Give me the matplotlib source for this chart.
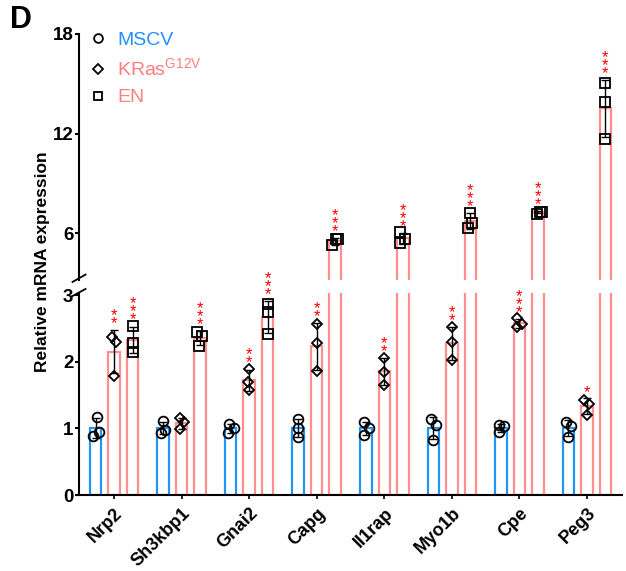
import numpy as np
import matplotlib
matplotlib.use("Agg")
import matplotlib.pyplot as plt
from matplotlib.lines import Line2D

plt.rcParams['font.family'] = ['Liberation Sans', 'DejaVu Sans']
plt.rcParams['mathtext.fontset'] = 'custom'
plt.rcParams['mathtext.rm'] = 'Liberation Sans'

# ---------------- data ----------------
genes = ['Nrp2', 'Sh3kbp1', 'Gnai2', 'Capg', 'Il1rap', 'Myo1b', 'Cpe', 'Peg3']
mscv = [[1.17, 0.89, 0.94], [1.11, 0.93, 0.98], [1.07, 0.93, 1.00], [1.14, 1.00, 0.87],
        [1.10, 1.00, 0.90], [1.14, 1.05, 0.82], [1.05, 1.04, 0.94], [1.10, 1.03, 0.87]]
kras = [[2.37, 2.30, 1.78], [1.15, 1.09, 0.99], [1.89, 1.69, 1.58], [2.56, 2.28, 1.86],
        [2.06, 1.85, 1.65], [2.52, 2.29, 2.02], [2.65, 2.52, 2.56], [1.43, 1.36, 1.20]]
en = [[2.54, 2.28, 2.15], [2.45, 2.38, 2.24], [2.87, 2.74, 2.41], [5.30, 5.66, 5.66],
      [6.06, 5.64, 5.40], [7.26, 6.64, 6.34], [7.20, 7.32, 7.30], [15.04, 13.90, 11.66]]
kras_sig = ['**', '', '**', '**', '**', '**', '***', '*']
en_sig = ['***', '***', '***', '***', '***', '***', '***', '***']
series_labels = ['MSCV', 'KRas$^{\\mathregular{G12V}}$', 'EN']
bottom_ticks = [0, 1, 2, 3]
top_ticks = [6, 12, 18]

# ---------------- style ----------------
BLUE = '#2196F3'
RED = '#FF8F8F'
TXT_BLUE = '#1E90FF'
TXT_RED = '#FF7F7F'
edge_colors = [BLUE, RED, RED]
text_colors = [TXT_BLUE, TXT_RED, TXT_RED]
markers = ['o', 'D', 's']
msizes = [7, 5.2, 6.5]
offsets = [-0.274, 0.0, 0.274]
bar_w = 0.17
PX = 1 / 67.5  # one pixel in x data units
jitter_px = {
    0: [[1, -3, 3], [0, -2.5, 2], [-2, -3, 3], [0, 0, 0], [-2, 3, -1.5], [-2.5, 2.5, 0], [-2, 3, -1.5], [-2, 3, 0]],
    1: [[-2, 2, 0], [-2, 2, -2], [0, -1, 0], [0, 0, 0], [0, 0, 0], [0, 0, 0], [-2, -2, 3], [-3, 2, 0]],
    2: [[0, 0, 0], [-3, 2, -1], [0, 0, 0], [-3, 1, 3], [-3, 2.5, -2.5], [0, 2, -2], [-1, 2.5, 4], [0, 0, 0]],
}

W, H = 626, 571
fig = plt.figure(figsize=(W / 100, H / 100), dpi=100)
left, right = 79 / W, 622 / W
ax_bot = fig.add_axes([left, 1 - 495 / H, right - left, (495 - 293) / H])
ax_top = fig.add_axes([left, 1 - 280 / H, right - left, (280 - 34) / H])
ax_top.patch.set_visible(False)
ax_bot.set_ylim(0, 3.03)
ax_top.set_ylim(3.2, 18)

xs = np.arange(len(genes))
data = [mscv, kras, en]
sigs = [None, kras_sig, en_sig]

for ax in (ax_bot, ax_top):
    lo, hi = ax.get_ylim()
    for s, vals in enumerate(data):
        arr = np.array(vals)
        means = arr.mean(axis=1)
        sds = arr.std(axis=1, ddof=1)
        xpos = xs + offsets[s]
        ax.bar(xpos, means, width=bar_w, facecolor='none', edgecolor=edge_colors[s],
               linewidth=1.6, zorder=2)
        inside = (means >= lo) & (means <= hi)
        if inside.any():
            ax.errorbar(xpos[inside], means[inside], yerr=sds[inside], fmt='none',
                        ecolor='black', elinewidth=1.0, capsize=3, capthick=1.0, zorder=3)
        for g in range(len(genes)):
            jx = xpos[g] + np.array(jitter_px[s][g]) * PX
            yv = arr[g]
            keep = (yv >= lo) & (yv <= hi)
            if keep.any():
                ax.plot(jx[keep], yv[keep], linestyle='none', marker=markers[s],
                        ms=msizes[s], mfc='none', mec='black', mew=1.3, zorder=4)

for ax in (ax_bot, ax_top):
    ax.set_xlim(-0.52, 7.52)
    ax.spines['top'].set_visible(False)
    ax.spines['right'].set_visible(False)
    ax.spines['left'].set_linewidth(1.5)
    ax.tick_params(axis='y', length=3, width=1.5, pad=1)
ax_top.spines['bottom'].set_visible(False)
ax_top.set_xticks([])
ax_bot.spines['bottom'].set_linewidth(1.5)
ax_bot.set_yticks(bottom_ticks)
ax_top.set_yticks(top_ticks)
ax_bot.set_yticklabels([str(t) for t in bottom_ticks], fontweight='bold', fontsize=13.5)
ax_top.set_yticklabels([str(t) for t in top_ticks], fontweight='bold', fontsize=13.5)
ax_bot.set_xticks(xs)
ax_bot.set_xticklabels(genes, rotation=45, ha='right', rotation_mode='anchor',
                       fontweight='bold', fontsize=13)
ax_bot.tick_params(axis='x', length=3, width=1.2, pad=4)

# significance stars (one stacked text per bar)
for s in (1, 2):
    arr = np.array(data[s])
    means = arr.mean(axis=1)
    sds = arr.std(axis=1, ddof=1)
    for g in range(len(genes)):
        sig = sigs[s][g]
        if not sig:
            continue
        top = max(means[g] + sds[g], arr[g].max())
        ax = ax_top if top > 3.1 else ax_bot
        ax.annotate('\n'.join(sig), xy=(xs[g] + offsets[s], top), xytext=(0, -1.0),
                    textcoords='offset points', ha='center', va='bottom',
                    color='red', fontsize=12, linespacing=0.42, zorder=5,
                    annotation_clip=False)

# axis break marks
d = 0.012
kw = dict(color='black', linewidth=1.3, clip_on=False)
ax_top.plot([-d, d], [-0.008, 0.022], transform=ax_top.transAxes, **kw)
ax_bot.plot([-d, d], [0.985, 1.02], transform=ax_bot.transAxes, **kw)

# legend
handles = [Line2D([], [], linestyle='none', marker=markers[i], ms=msizes[i] * 0.9,
                  mfc='none', mec='black', mew=1.3) for i in range(3)]
leg = ax_top.legend(handles, series_labels, loc='upper left',
                    bbox_to_anchor=(90 / W, 1 - 31 / H), bbox_transform=fig.transFigure,
                    frameon=False, fontsize=14, handlelength=0.8, handletextpad=0.6,
                    labelspacing=0.45, borderpad=0, borderaxespad=0)
for t, c in zip(leg.get_texts(), text_colors):
    t.set_color(c)

fig.text(43 / W, 1 - 262 / H, 'Relative mRNA expression', rotation=90, ha='center',
         va='center', fontsize=12.5, fontweight='bold')
fig.text(10 / W, 1 - 28 / H, 'D', fontsize=22, fontweight='bold', va='baseline')

fig.savefig('out.png', dpi=100)
